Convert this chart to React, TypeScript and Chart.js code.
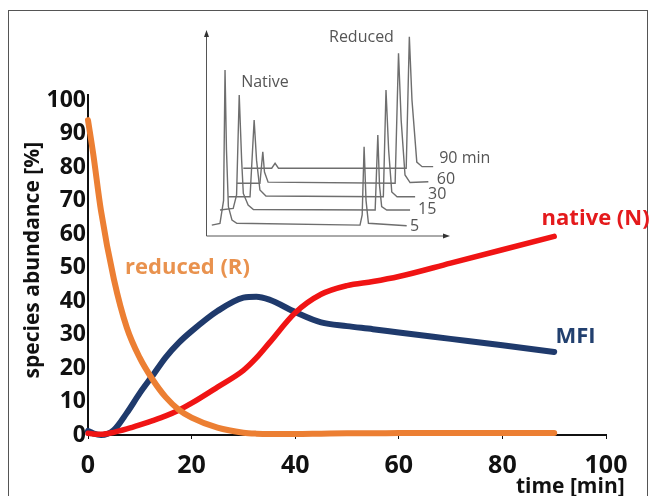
import React, { useEffect, useRef } from "react";
import { Chart, registerables } from "chart.js";

Chart.register(...registerables);

// ---------- main chart data ----------
const timeMin = [0, 1, 2.5, 5, 7.5, 10, 12.5, 15, 17.5, 20, 25, 30, 32.5, 35, 40, 45, 50, 55, 60, 70, 80, 90];
const reducedR = [94, 84, 67, 46.5, 32, 23, 16.5, 11.3, 7.6, 5.2, 2.2, 0.7, 0.4, 0.3, 0.3, 0.4, 0.5, 0.5, 0.6, 0.6, 0.6, 0.6];
const nativeN = [0.5, 0.3, 0.2, 0.8, 1.8, 3.0, 4.3, 5.7, 7.4, 9.5, 14.3, 19.3, 23, 27.5, 36.5, 42, 44.6, 45.8, 47.3, 51.3, 55.3, 59.3];
const mfi = [1.2, 0.5, 0, 1.5, 6.6, 12.5, 17.8, 23.2, 27.5, 31, 37, 41, 41.3, 40.4, 36.7, 33.6, 32.5, 31.6, 30.6, 28.7, 26.8, 24.8];

const xTicks = [0, 20, 40, 60, 80, 100];
const yTicks = [0, 10, 20, 30, 40, 50, 60, 70, 80, 90, 100];

const seriesNames = ["reduced (R)", "native (N)", "MFI"];
const seriesColors = ["#EC7F33", "#F01414", "#1F3A6C"];
const labelColors = ["#E9924E", "#E41A1C", "#22406F"];
const labelTime = [19.2, 98, 94.1];
const labelValue = [49.9, 64.5, 29.3];

const xTitle = "time [min]";
const yTitle = "species abundance [%]";

// ---------- inset (chromatograms) data ----------
const insetTrace5 = [[2.2, 1.5], [5.6, 2.4], [7.1, 14], [7.7, 79.8], [8.3, 39.4], [9.1, 10.8], [10.6, 4], [12.6, 2.4], [63.8, 1.5], [64.7, 6.6], [65.5, 41], [66.3, 14], [67.3, 2.4], [83.2, 1.2]];
const insetTrace15 = [[5.6, 9.1], [11.1, 9.9], [12.5, 16.7], [13.6, 67.2], [14.6, 34.3], [15.3, 17.5], [17.3, 11.6], [19.5, 9.4], [70.1, 9.1], [71.2, 47], [71.9, 21.7], [72.8, 10.8], [74.9, 9.1], [84.6, 9.1]];
const insetTrace30 = [[9.1, 15.8], [18.1, 15.8], [19.8, 54.5], [20.8, 34.3], [22.2, 19.2], [24.7, 16.2], [73.5, 15.8], [74.6, 69.7], [75.7, 39.4], [77, 18.2], [79.2, 15.8], [86.7, 15.8]];
const insetTrace60 = [[12.6, 22.6], [22.2, 22.6], [23.4, 38.5], [24.1, 28.3], [25.6, 23.2], [78.4, 22.6], [79.8, 88.2], [80.9, 54.5], [82.5, 26.8], [84.6, 23], [92.2, 23.4]];
const insetTrace90 = [[15.3, 30.2], [27.1, 30.2], [28.5, 32.7], [29.9, 30.2], [83, 30.2], [84.3, 96.6], [85.4, 64.6], [87.4, 33.3], [89.6, 31], [94.2, 31]];

const insetTexts = ["Native", "Reduced", "5", "15", "30", "60", "90 min"];
const insetTextX = [24.3, 64.4, 84.6, 87.9, 92.1, 95.7, 96.7];
const insetTextY = [73.7, 96, 0.7, 9.6, 17.2, 24.7, 35.4];
const insetTextAlign = ["center", "center", "left", "left", "left", "left", "left"];

const FONT = "'Open Sans', 'DejaVu Sans', sans-serif";

const mainTextPlugin = {
  id: "mainText",
  afterDraw(chart: any) {
    const { ctx, scales, chartArea } = chart;
    const xs = scales.x;
    const ys = scales.y;
    ctx.save();
    ctx.textBaseline = "middle";
    ctx.textAlign = "center";
    ctx.font = `bold 22px ${FONT}`;
    for (let i = 0; i < seriesNames.length; i++) {
      ctx.fillStyle = labelColors[i];
      ctx.fillText(seriesNames[i], xs.getPixelForValue(labelTime[i]), ys.getPixelForValue(labelValue[i]));
    }
    ctx.fillStyle = "#111";
    ctx.font = `bold 21px ${FONT}`;
    ctx.fillText(xTitle, xs.getPixelForValue(93.1), ys.getPixelForValue(-15.5));
    ctx.translate(chartArea.left - 55, ys.getPixelForValue(52.2));
    ctx.rotate(-Math.PI / 2);
    ctx.fillText(yTitle, 0, 0);
    ctx.restore();
  },
};

const insetPlugin = {
  id: "insetDecor",
  beforeDatasetsDraw(chart: any) {
    const { ctx, chartArea } = chart;
    const { left, right, top, bottom } = chartArea;
    ctx.save();
    ctx.strokeStyle = "#555";
    ctx.fillStyle = "#333";
    ctx.lineWidth = 1;
    ctx.beginPath();
    ctx.moveTo(left, bottom);
    ctx.lineTo(left, top + 4);
    ctx.moveTo(left, bottom);
    ctx.lineTo(right - 4, bottom);
    ctx.stroke();
    ctx.beginPath();
    ctx.moveTo(left, top);
    ctx.lineTo(left - 2.5, top + 7);
    ctx.lineTo(left + 2.5, top + 7);
    ctx.closePath();
    ctx.fill();
    ctx.beginPath();
    ctx.moveTo(right, bottom);
    ctx.lineTo(right - 7, bottom - 2.5);
    ctx.lineTo(right - 7, bottom + 2.5);
    ctx.closePath();
    ctx.fill();
    ctx.restore();
  },
  afterDatasetsDraw(chart: any) {
    const { ctx, scales } = chart;
    ctx.save();
    ctx.font = `16px ${FONT}`;
    ctx.fillStyle = "#555";
    ctx.textBaseline = "middle";
    for (let i = 0; i < insetTexts.length; i++) {
      ctx.textAlign = insetTextAlign[i];
      ctx.fillText(insetTexts[i], scales.x.getPixelForValue(insetTextX[i]), scales.y.getPixelForValue(insetTextY[i]));
    }
    ctx.restore();
  },
};

export default function App() {
  const mainRef = useRef<HTMLCanvasElement | null>(null);
  const insetRef = useRef<HTMLCanvasElement | null>(null);

  useEffect(() => {
    const mk = (vals: number[]) => timeMin.map((t, i) => ({ x: t, y: vals[i] }));
    const seriesData = [reducedR, nativeN, mfi];
    const widths = [6, 5.5, 6];
    const main = new Chart(mainRef.current as HTMLCanvasElement, {
      type: "line",
      data: {
        datasets: seriesData.map((vals, i) => ({
          label: seriesNames[i],
          data: mk(vals),
          borderColor: seriesColors[i],
          backgroundColor: seriesColors[i],
          borderWidth: widths[i],
          pointRadius: 0,
          cubicInterpolationMode: "monotone",
          fill: false,
          clip: 10,
          borderCapStyle: "round",
          borderJoinStyle: "round",
        })),
      },
      options: {
        animation: false,
        responsive: false,
        maintainAspectRatio: false,
        layout: { padding: { top: 95, right: 51, left: 0, bottom: 0 } },
        plugins: { legend: { display: false }, tooltip: { enabled: false }, title: { display: false } },
        scales: {
          x: {
            type: "linear",
            min: 0,
            max: 100,
            afterBuildTicks: (s: any) => { s.ticks = xTicks.map((v) => ({ value: v })); },
            afterFit: (s: any) => { s.height = 61; },
            ticks: { color: "#111", font: { family: FONT, size: 25, weight: "bold" }, padding: 12, maxRotation: 0 },
            grid: { display: true, drawOnChartArea: false, drawTicks: true, tickLength: 4, color: "#111", lineWidth: 1 },
            border: { display: true, color: "#111", width: 2 },
          },
          y: {
            type: "linear",
            min: 0,
            max: 101.5,
            afterBuildTicks: (s: any) => { s.ticks = yTicks.map((v) => ({ value: v })); },
            afterFit: (s: any) => { s.width = 88; },
            ticks: { color: "#111", font: { family: FONT, size: 23, weight: "bold" }, padding: 2 },
            grid: { display: false, drawTicks: false },
            border: { display: true, color: "#111", width: 2 },
          },
        },
      },
      plugins: [mainTextPlugin],
    } as any);

    const traces = [insetTrace5, insetTrace15, insetTrace30, insetTrace60, insetTrace90];
    const inset = new Chart(insetRef.current as HTMLCanvasElement, {
      type: "line",
      data: {
        datasets: traces.map((tr, i) => ({
          label: "trace" + i,
          data: tr.map((p) => ({ x: p[0], y: p[1] })),
          borderColor: "#6e6e6e",
          borderWidth: 1.4,
          pointRadius: 0,
          tension: 0,
          fill: false,
          clip: false,
        })),
      },
      options: {
        animation: false,
        responsive: false,
        maintainAspectRatio: false,
        layout: { padding: { left: 16.5, top: 10, right: 60, bottom: 4 } },
        plugins: { legend: { display: false }, tooltip: { enabled: false } },
        scales: {
          x: { type: "linear", min: 0, max: 101.2, display: false },
          y: { type: "linear", min: -4, max: 100, display: false },
        },
      },
      plugins: [insetPlugin],
    } as any);

    return () => {
      main.destroy();
      inset.destroy();
    };
  }, []);

  return (
    <div style={{ position: "fixed", left: 0, top: 0, width: 657, height: 496, background: "#fff", overflow: "hidden" }}>
      <div style={{ position: "absolute", left: 8, top: 10, width: 640, height: 500, border: "1px solid #555", boxSizing: "border-box" }} />
      <canvas ref={mainRef} width={657} height={496} style={{ position: "absolute", left: 0, top: 0, width: 657, height: 496 }} />
      <canvas ref={insetRef} width={320} height={220} style={{ position: "absolute", left: 190, top: 20, width: 320, height: 220 }} />
    </div>
  );
}
